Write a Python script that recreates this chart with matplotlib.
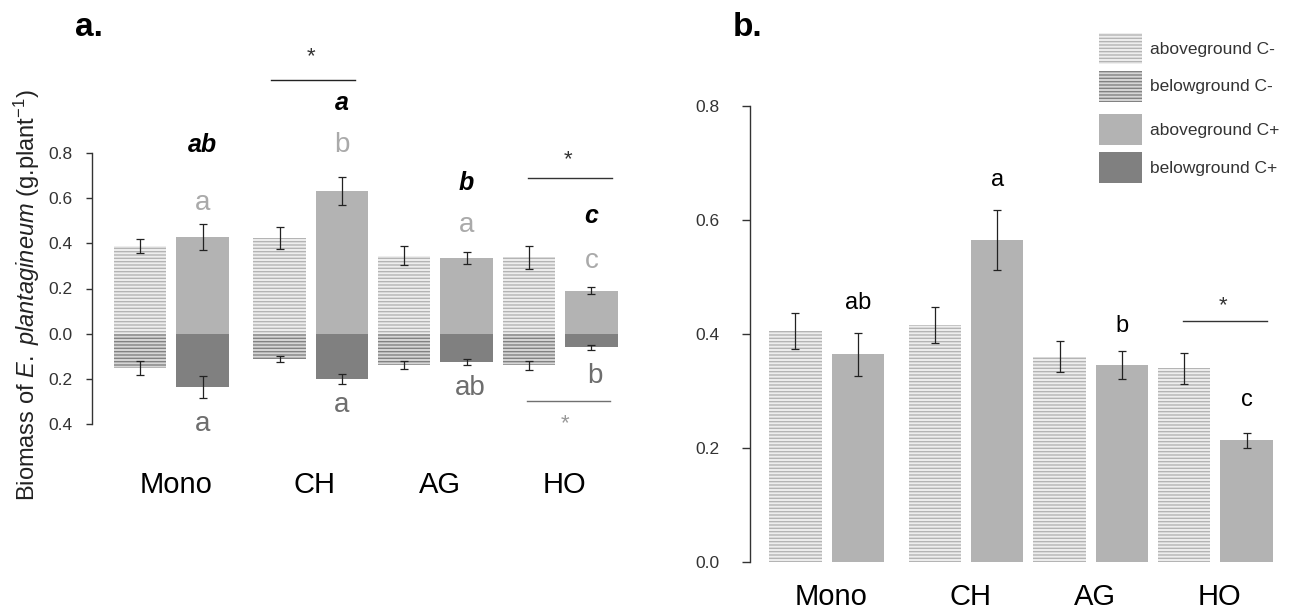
import numpy as np
import matplotlib
matplotlib.use("Agg")
import matplotlib.pyplot as plt
from matplotlib.patches import Patch

plt.rcParams['font.family'] = ['Liberation Sans', 'DejaVu Sans']
plt.rcParams['mathtext.fontset'] = 'custom'
plt.rcParams['mathtext.rm'] = 'Liberation Sans'
plt.rcParams['mathtext.it'] = 'Liberation Sans:italic'
plt.rcParams['mathtext.bf'] = 'Liberation Sans:bold'
plt.rcParams['hatch.linewidth'] = 1.0

# data
groups = ['Mono', 'CH', 'AG', 'HO']

# panel a: aboveground (positive) and belowground (shown downward) biomass
a_above_cminus = [0.388, 0.424, 0.345, 0.337]
a_above_cminus_se = [0.032, 0.049, 0.042, 0.050]
a_above_cplus = [0.428, 0.631, 0.335, 0.191]
a_above_cplus_se = [0.056, 0.062, 0.026, 0.017]
a_below_cminus = [0.151, 0.111, 0.137, 0.140]
a_below_cminus_se = [0.029, 0.012, 0.018, 0.021]
a_below_cplus = [0.236, 0.200, 0.123, 0.060]
a_below_cplus_se = [0.050, 0.021, 0.013, 0.010]

a_letters_total = ['ab', 'a', 'b', 'c']
a_letters_above = ['a', 'b', 'a', 'c']
a_letters_below = ['a', 'a', 'ab', 'b']

# panel b
b_cminus = [0.405, 0.415, 0.360, 0.339]
b_cminus_se = [0.031, 0.032, 0.027, 0.027]
b_cplus = [0.364, 0.564, 0.345, 0.213]
b_cplus_se = [0.038, 0.053, 0.024, 0.013]
b_letters = ['ab', 'a', 'b', 'c']

# colours / styles
above_minus_face, above_minus_hatch = '#eeeeee', '#b4b4b4'
below_minus_face, below_minus_hatch = '#d6d6d6', '#828282'
above_plus = '#b3b3b3'
below_plus = '#808080'
err_col = '#222222'
HATCH = '-----'

# layout (bar width = 1 unit)
group_starts = np.array([0.0, 2.66, 5.04, 7.42])
x_cm = group_starts + 0.5
x_cp = group_starts + 1.69
centers = group_starts + 1.095

W, H = 1302, 608
fig = plt.figure(figsize=(W / 100, H / 100), dpi=100)


def add_px_axes(left, top, right, bottom):
    return fig.add_axes([left / W, 1 - bottom / H, (right - left) / W, (bottom - top) / H])


def style_axis(ax, tick_len, tick_pad, label_pad):
    for s in ['top', 'right', 'bottom']:
        ax.spines[s].set_visible(False)
    ax.spines['left'].set_color('#333333')
    ax.spines['left'].set_linewidth(1.0)
    ax.tick_params(axis='y', length=tick_len, width=1.0, color='#333333',
                   pad=tick_pad, labelsize=12.5, labelcolor='#333333')
    ax.set_xticks(centers + 0.08, groups)
    ax.tick_params(axis='x', length=0, pad=label_pad, labelsize=21)
    ax.patch.set_visible(False)


ebar = dict(fmt='none', ecolor=err_col, elinewidth=0.9, capsize=3, capthick=0.9)

# ---------------- panel a ----------------
ax1 = add_px_axes(92.3, 152.7, 92.3 + 10.414 * 52.4, 424.3)
ax1.set_xlim(-0.414, 10.0)
ax1.set_ylim(-0.4, 0.8)

ax1.bar(x_cm, a_above_cminus, width=1, color=above_minus_face, edgecolor=above_minus_hatch, hatch=HATCH, lw=0)
ax1.bar(x_cm, -np.array(a_below_cminus), width=1, color=below_minus_face, edgecolor=below_minus_hatch, hatch=HATCH, lw=0)
ax1.bar(x_cp, a_above_cplus, width=1, color=above_plus, lw=0)
ax1.bar(x_cp, -np.array(a_below_cplus), width=1, color=below_plus, lw=0)

ax1.errorbar(x_cm, a_above_cminus, yerr=a_above_cminus_se, **ebar)
ax1.errorbar(x_cp, a_above_cplus, yerr=a_above_cplus_se, **ebar)
ax1.errorbar(x_cm, -np.array(a_below_cminus), yerr=a_below_cminus_se, **ebar)
ax1.errorbar(x_cp, -np.array(a_below_cplus), yerr=a_below_cplus_se, **ebar)

yt = [-0.4, -0.2, 0.0, 0.2, 0.4, 0.6, 0.8]
ax1.set_yticks(yt, ['%.1f' % abs(v) for v in yt])
style_axis(ax1, 4, 9.9, 33.6)

# significance letters
y_total = [0.833, 1.019, 0.667, 0.521]
y_above = [0.577, 0.833, 0.479, 0.320]
y_below = [-0.397, -0.313, -0.238, -0.185]
for i in range(4):
    ax1.text(x_cp[i], y_total[i], a_letters_total[i], ha='center', va='center',
             fontsize=18, fontweight='bold', fontstyle='italic', color='black')
    ax1.text(x_cp[i], y_above[i], a_letters_above[i], ha='center', va='center',
             fontsize=20, color='#aaaaaa')
    ax1.text(x_cp[i] + (0.07 if i >= 2 else 0), y_below[i], a_letters_below[i],
             ha='center', va='center', fontsize=20, color='#6e6e6e')

# asterisks and lines
ax1.plot([3.0, 4.6], [1.121, 1.121], color='#222222', lw=1.0, clip_on=False)
ax1.text(3.76, 1.224, '*', ha='center', va='center', fontsize=16, color='#333333')
ax1.plot([7.9, 9.5], [0.689, 0.689], color='#333333', lw=1.0, clip_on=False)
ax1.text(8.67, 0.767, '*', ha='center', va='center', fontsize=16, color='#333333')
ax1.plot([7.88, 9.47], [-0.295, -0.295], color='#707070', lw=1.0, clip_on=False)
ax1.text(8.61, -0.396, '*', ha='center', va='center', fontsize=16, color='#999999')

fig.text(27 / W, 1 - 295 / H,
         r'Biomass of $\mathit{E.\ plantagineum}$ (g.plant$^{-1}$)',
         rotation=90, ha='center', va='center', fontsize=17, color='#222222')
fig.text(75 / W, 1 - 36 / H, 'a.', ha='left', va='baseline', fontsize=24, fontweight='bold')

# ---------------- panel b ----------------
ax2 = add_px_axes(750, 105.7, 750 + 10.368 * 52.4, 561.7)
ax2.set_xlim(-0.368, 10.0)
ax2.set_ylim(0, 0.8)

ax2.bar(x_cm, b_cminus, width=1, color=above_minus_face, edgecolor=above_minus_hatch, hatch=HATCH, lw=0)
ax2.bar(x_cp, b_cplus, width=1, color=above_plus, lw=0)
ax2.errorbar(x_cm, b_cminus, yerr=b_cminus_se, **ebar)
ax2.errorbar(x_cp, b_cplus, yerr=b_cplus_se, **ebar)

ax2.set_yticks([0.0, 0.2, 0.4, 0.6, 0.8], ['0.0', '0.2', '0.4', '0.6', '0.8'])
style_axis(ax2, 6, 16.3, 15.0)

y_b = [0.454, 0.669, 0.414, 0.284]
for i in range(4):
    ax2.text(x_cp[i], y_b[i], b_letters[i], ha='center', va='center', fontsize=17, color='black')
ax2.plot([7.9, 9.5], [0.422, 0.422], color='#333333', lw=1.0, clip_on=False)
ax2.text(8.66, 0.450, '*', ha='center', va='center', fontsize=16, color='#333333')

fig.text(733 / W, 1 - 36 / H, 'b.', ha='left', va='baseline', fontsize=24, fontweight='bold')

# legend in two blocks (C- and C+), as in the original
leg_kw = dict(loc='upper left', bbox_transform=fig.transFigure, frameon=False,
              borderpad=0, borderaxespad=0, handlelength=2.48, handleheight=2.37,
              labelspacing=0.4, handletextpad=0.45, fontsize=12.5, labelcolor='#333333')
handles_minus = [
    Patch(facecolor=above_minus_face, edgecolor=above_minus_hatch, hatch=HATCH, lw=0, label='aboveground C-'),
    Patch(facecolor=below_minus_face, edgecolor=below_minus_hatch, hatch=HATCH, lw=0, label='belowground C-'),
]
handles_plus = [
    Patch(facecolor=above_plus, lw=0, label='aboveground C+'),
    Patch(facecolor=below_plus, lw=0, label='belowground C+'),
]
leg1 = ax2.legend(handles=handles_minus, bbox_to_anchor=(1099.3 / W, 1 - 32.7 / H), **leg_kw)
ax2.add_artist(leg1)
ax2.legend(handles=handles_plus, bbox_to_anchor=(1099.3 / W, 1 - 114 / H), **leg_kw)

fig.savefig('out.png', dpi=100)
